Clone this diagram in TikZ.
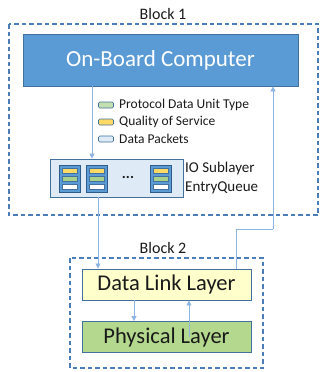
\documentclass[tikz,border=0pt]{standalone}
\usepackage{fontspec}
\setmainfont{Carlito}
\usetikzlibrary{arrows.meta}
\definecolor{obc}{HTML}{5B9BD5}
\definecolor{obcb}{HTML}{41719C}
\definecolor{dash}{HTML}{4A7EBB}
\definecolor{conn}{HTML}{8DB4E2}
\definecolor{qfill}{HTML}{DEEBF7}
\definecolor{dll}{HTML}{FFFFCC}
\definecolor{phy}{HTML}{B4D88E}
\definecolor{ylw}{HTML}{FFD966}
\definecolor{grn}{HTML}{A9D18E}
\definecolor{stk}{HTML}{5B9BD5}
\definecolor{stkb}{HTML}{2E5C8A}
\definecolor{txt}{HTML}{1A1A1A}
\tikzset{
  blockbox/.style={draw=dash, line width=1.2pt, dash pattern=on 4.5pt off 3pt},
  layer/.style={draw=obcb, line width=0.9pt, minimum width=169pt, minimum height=31pt, inner sep=0pt, font=\fontsize{22.5}{24}\selectfont, text=txt},
  conn/.style={draw=conn, line width=0.8pt},
  connarrow/.style={conn, -{Triangle[length=5pt,width=5pt]}},
  stack/.style={draw=stkb, fill=stk, line width=0.7pt, minimum width=21pt, minimum height=27pt, inner sep=0pt},
  bar/.style={draw=obcb, line width=0.5pt, minimum width=15pt, minimum height=5pt, inner sep=0pt},
  legicon/.style={draw=obcb, line width=0.6pt, rounded corners=1.2pt, minimum width=15pt, minimum height=6pt, inner sep=0pt},
  legtext/.style={anchor=west, font=\fontsize{13.5}{15}\selectfont, text=txt, inner sep=0pt},
  lbl/.style={font=\fontsize{16}{17}\selectfont, text=txt, inner sep=0pt}
}
\begin{document}
\begin{tikzpicture}[x=1pt,y=-1pt]
\useasboundingbox (0,0) rectangle (321,372);
% Block 1
\draw[blockbox] (9,24) rectangle (318,215);
\node[lbl] (b1) at (163,14) {Block 1};
\node[fill=obc, draw=obcb, line width=0.8pt, minimum width=275pt, minimum height=52pt, inner sep=0pt, text=white, font=\fontsize{23}{24}\selectfont] (obc) at (160.5,60) {On-Board Computer};
% legend
\node[legicon, fill=grn!70] (i1) at (106,105) {};
\node[legicon, fill=ylw] (i2) at (106,122) {};
\node[legicon, fill=qfill] (i3) at (106,139) {};
\node[legtext] (t1) at (119,105) {Protocol Data Unit Type};
\node[legtext] (t2) at (119,122) {Quality of Service};
\node[legtext] (t3) at (119,139) {Data Packets};
% queue
\node[draw=obcb, fill=qfill, line width=0.9pt, minimum width=133pt, minimum height=38pt, inner sep=0pt] (q) at (116.5,178) {};
\foreach \n/\x in {s1/69.5, s2/96.5, s3/161}{
  \node[stack] (\n) at (\x,178.5) {};
  \node[bar, fill=ylw] (\n a) at (\x,170.5) {};
  \node[bar, fill=grn] (\n b) at (\x,178.5) {};
  \node[bar, fill=white] (\n c) at (\x,186.5) {};
}
\node[font=\fontsize{15}{16}\selectfont\bfseries, text=txt, inner sep=0pt] (dots) at (128,177) {...};
\node[anchor=west, align=left, font=\fontsize{15}{19}\selectfont, text=txt, inner sep=0pt] (ql) at (185,178) {IO Sublayer\\EntryQueue};
% Block 2
\draw[blockbox] (70,258) rectangle (263,368);
\node[lbl] (b2) at (163,248) {Block 2};
\node[layer, fill=dll] (dll) at (166.5,284.5) {Data Link Layer};
\node[layer, fill=phy] (phy) at (166.5,337) {Physical Layer};
% connectors
\draw[connarrow] (obc.south -| 92,0) -- (q.north -| 92,0);
\draw[connarrow] (q.south -| 98,0) -- (dll.north -| 98,0);
\coordinate (c1) at (273,229);
\coordinate (c2) at (236,229);
\draw[conn] (dll.north -| 236,0) -- (c2) -- (c1);
\draw[connarrow] (c1) -- (obc.south -| 273,0);
\draw[connarrow] (dll.south -| 134,0) -- (phy.north -| 134,0);
\draw[connarrow] (phy.center -| 189,0) -- (dll.south -| 189,0);
\end{tikzpicture}
\end{document}
